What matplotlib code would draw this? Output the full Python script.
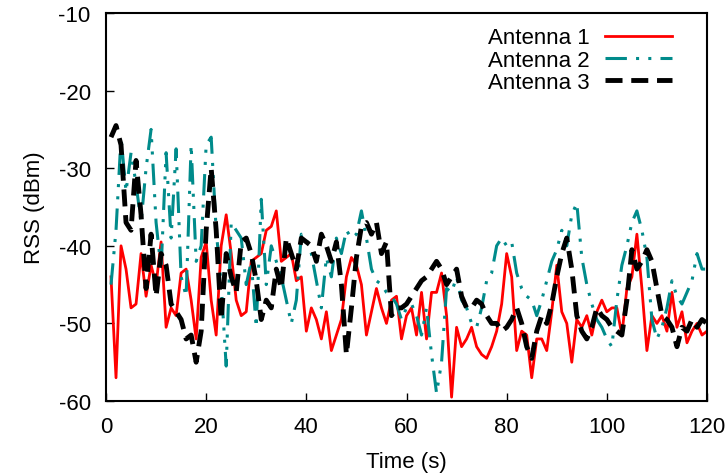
import numpy as np
import matplotlib
matplotlib.use("Agg")
import matplotlib.pyplot as plt

plt.rcParams['font.family'] = ['Liberation Sans', 'DejaVu Sans']
plt.rcParams['axes.unicode_minus'] = False

# time stamps (s)
time_s = np.arange(1, 121)

# Antenna 1 RSS (dBm)
antenna1 = [
    -44, -57, -40, -43, -48, -47.5, -41, -46.5, -42.5, -45,
    -39.5, -50.5, -48, -49, -43.5, -43, -47, -52, -41.5, -39.5,
    -47, -51.5, -40, -36, -41, -47, -49, -48.5, -42, -41.5,
    -41, -38, -37.5, -35.5, -42, -41.5, -41, -44.5, -44, -51,
    -48, -49.5, -52, -48.5, -53.5, -51.5, -49.5, -44, -41.5, -42.5,
    -45, -51.5, -48.5, -45.5, -48, -50, -47, -46.5, -52, -49,
    -48, -51.5, -46, -52, -46, -46, -43.5, -49, -59.5, -50.5,
    -53, -52, -50.5, -53, -54, -54.5, -53, -51, -47.5, -41,
    -44, -53.5, -51, -51.5, -57, -52, -52, -53.5, -48.5, -42.5,
    -48.5, -50, -55, -49.5, -50.5, -49, -51.5, -48.5, -47, -48.5,
    -48, -48, -51.5, -45.5, -44, -38.5, -45.5, -53.5, -49, -50,
    -49, -51, -46, -50.5, -48.5, -52.5, -51, -50, -51.5, -51,
]

# Antenna 2 RSS (dBm)
antenna2 = [
    -45, -38, -26, -33, -28, -32, -37, -30, -25, -37,
    -43, -28, -39, -27.5, -44, -46.5, -27, -42, -40, -27,
    -26, -38, -45, -55.5, -37, -38, -39, -45, -42, -50.5,
    -34, -45, -40, -42, -44, -47, -50, -47, -38.5, -39,
    -41, -44.5, -48, -41.5, -44, -39, -41, -38, -39, -38.5,
    -35.5, -39, -43, -44.5, -45, -46, -46.5, -47.5, -49.5, -48,
    -47.5, -49, -51.5, -48, -54, -59, -55, -45.5, -46, -44,
    -47, -48, -50, -50.5, -48, -44.5, -43.5, -40, -39, -40,
    -39.5, -43.5, -45.5, -46.5, -47, -49, -47, -44.5, -42, -40.5,
    -38, -40, -36, -34.5, -41.5, -45, -47.5, -49.5, -50.5, -52,
    -53, -47, -42.5, -40, -37, -35.5, -38, -41.5, -49.5, -52,
    -50.5, -48, -44.5, -46.5, -47.5, -46, -44.5, -41, -43, -43,
]

# Antenna 3 RSS (dBm)
antenna3 = [
    -26, -24.5, -27, -37, -38, -29, -36, -45.5, -38.5, -46.5,
    -41, -42.5, -47.5, -48.5, -49.5, -52, -51.5, -55, -51, -38,
    -30, -38, -49.5, -41, -44, -46, -39.5, -39, -41, -44.5,
    -49.5, -47, -48, -43, -45.5, -39, -41, -43, -39, -39.5,
    -40, -42, -38.5, -40, -42, -39.5, -45, -54, -48, -41.5,
    -37.5, -37, -38.5, -37, -41, -39.5, -49, -48, -48, -47.5,
    -46.5, -45.5, -44.5, -44, -43, -42, -43, -45, -44, -43,
    -46.5, -48, -48, -47, -47.5, -49, -50, -50, -51, -50.5,
    -49.5, -48, -50, -53, -54.5, -51, -49, -50, -47.5, -44,
    -41, -39, -43, -49, -51, -52, -50.5, -48, -49, -49.5,
    -50.5, -51, -51.5, -47, -40.5, -43, -42, -40.5, -42, -45.5,
    -49, -49.5, -50.5, -53, -50.5, -51, -49.5, -50.5, -49.5, -50,
]

fig = plt.figure(figsize=(7.27, 4.77), dpi=100)
ax = fig.add_axes([0.1458, 0.1572, 0.8267, 0.8134])

ax.plot(time_s, antenna1, color='#ff0000', linewidth=2.0, label='Antenna 1')
ax.plot(time_s, antenna2, color='#008b8b', linewidth=2.2,
        dashes=(7, 3, 1, 3, 1, 3), label='Antenna 2')
ax.plot(time_s, antenna3, color='black', linewidth=3.5,
        dashes=(3.5, 1.8), label='Antenna 3')

ax.set_xlim(0, 120)
ax.set_ylim(-60, -10)
ax.set_xticks(range(0, 121, 20))
ax.set_yticks(range(-60, -9, 10))
ax.tick_params(direction='in', length=6, width=1, labelsize=16)
ax.tick_params(axis='x', pad=11)
ax.tick_params(axis='y', pad=11)
for s in ax.spines.values():
    s.set_linewidth(1.5)

ax.set_xlabel("Time (s)", fontsize=16, labelpad=10)
ax.set_ylabel("RSS (dBm)", fontsize=16, labelpad=10)

ax.legend(loc='upper right', bbox_to_anchor=(0.965, 1.0), frameon=False,
          markerfirst=False, fontsize=16, handlelength=3.0, labelspacing=0.05,
          borderaxespad=0.25, handletextpad=0.7)

plt.savefig("out.png", dpi=100)
